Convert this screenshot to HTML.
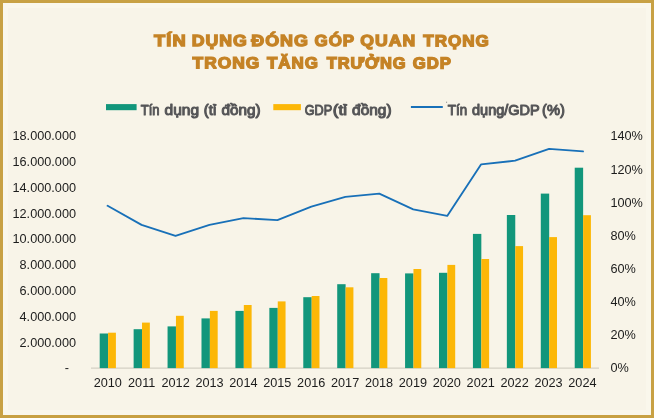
<!DOCTYPE html>
<html><head><meta charset="utf-8"><title>chart</title>
<style>
html,body{margin:0;padding:0;background:#F8F4E8;}
body{width:654px;height:418px;overflow:hidden;font-family:"Liberation Sans",sans-serif;}
svg{display:block;will-change:transform;}
text{font-family:"Liberation Sans",sans-serif;}
.ax{font-size:12.7px;fill:#1c1c1c;}
.ttl{font-size:16.0px;letter-spacing:0.9px;font-weight:bold;fill:#C58326;stroke:#C58326;stroke-width:1.3px;stroke-linejoin:miter;stroke-miterlimit:2;}
.lg{font-size:14.2px;font-weight:normal;fill:#555557;stroke:#555557;stroke-width:1.0px;stroke-linejoin:round;}
</style></head><body>
<svg width="654" height="418" viewBox="0 0 654 418">
<rect x="0" y="0" width="654" height="418" fill="#C8A144"/>
<rect x="3" y="3" width="648" height="412" fill="#FAF7EC"/>
<rect x="8" y="8" width="638" height="402" fill="#F8F4E8"/>

<text class="ttl" transform="translate(0,45.9) rotate(0.03)" x="154.14" y="0" textLength="32.51" lengthAdjust="spacingAndGlyphs">TÍN</text>
<text class="ttl" transform="translate(0,45.9) rotate(0.03)" x="191.70" y="0" textLength="56.07" lengthAdjust="spacingAndGlyphs">DỤNG</text>
<text class="ttl" transform="translate(0,45.9) rotate(0.03)" x="251.21" y="0" textLength="57.77" lengthAdjust="spacingAndGlyphs">ĐÓNG</text>
<text class="ttl" transform="translate(0,45.9) rotate(0.03)" x="314.63" y="0" textLength="40.46" lengthAdjust="spacingAndGlyphs">GÓP</text>
<text class="ttl" transform="translate(0,45.9) rotate(0.03)" x="360.38" y="0" textLength="55.82" lengthAdjust="spacingAndGlyphs">QUAN</text>
<text class="ttl" transform="translate(0,45.9) rotate(0.03)" x="423.30" y="0" textLength="66.43" lengthAdjust="spacingAndGlyphs">TRỌNG</text>
<text class="ttl" transform="translate(0,68.2) rotate(0.03)" x="192.57" y="0" textLength="67.66" lengthAdjust="spacingAndGlyphs">TRONG</text>
<text class="ttl" transform="translate(0,68.2) rotate(0.03)" x="267.01" y="0" textLength="51.81" lengthAdjust="spacingAndGlyphs">TĂNG</text>
<text class="ttl" transform="translate(0,68.2) rotate(0.03)" x="326.71" y="0" textLength="79.91" lengthAdjust="spacingAndGlyphs">TRƯỞNG</text>
<text class="ttl" transform="translate(0,68.2) rotate(0.03)" x="412.73" y="0" textLength="39.10" lengthAdjust="spacingAndGlyphs">GDP</text>
<rect x="106" y="104.1" width="30.6" height="6.1" fill="#12967B"/>
<rect x="273.3" y="104.1" width="27.6" height="6.1" fill="#FCB707"/>
<line x1="410.9" y1="107.0" x2="442.8" y2="107.0" stroke="#1870B8" stroke-width="1.9"/>
<rect x="446.0" y="101.7" width="1.1" height="1.1" fill="#555557" opacity="0.6"/>
<text class="lg" x="140.83" y="115.0" textLength="18.75" lengthAdjust="spacingAndGlyphs">Tín</text>
<text class="lg" x="164.62" y="115.0" textLength="34.47" lengthAdjust="spacingAndGlyphs">dụng</text>
<text class="lg" x="203.86" y="115.0" textLength="12.52" lengthAdjust="spacingAndGlyphs">(tỉ</text>
<text class="lg" x="221.44" y="115.0" textLength="39.13" lengthAdjust="spacingAndGlyphs">đồng)</text>
<text class="lg" x="304.69" y="115.0" textLength="27.47" lengthAdjust="spacingAndGlyphs">GDP</text>
<text class="lg" x="332.84" y="115.0" textLength="14.33" lengthAdjust="spacingAndGlyphs">(tỉ</text>
<text class="lg" x="352.12" y="115.0" textLength="39.49" lengthAdjust="spacingAndGlyphs">đồng)</text>
<text class="lg" x="447.84" y="115.0" textLength="19.24" lengthAdjust="spacingAndGlyphs">Tín</text>
<text class="lg" x="472.04" y="115.0" textLength="67.73" lengthAdjust="spacingAndGlyphs">dụng/GDP</text>
<text class="lg" x="542.05" y="115.0" textLength="22.81" lengthAdjust="spacingAndGlyphs">(%)</text>
<line x1="91" y1="368.1" x2="599" y2="368.1" stroke="#D4D0C4" stroke-width="1.2"/>
<rect x="99.70" y="333.5" width="8.4" height="34.60" fill="#12967B"/>
<rect x="108.10" y="332.7" width="7.80" height="35.40" fill="#FCB707"/>
<rect x="133.63" y="329.2" width="8.4" height="38.90" fill="#12967B"/>
<rect x="142.03" y="322.6" width="7.80" height="45.50" fill="#FCB707"/>
<rect x="167.56" y="326.4" width="8.4" height="41.70" fill="#12967B"/>
<rect x="175.96" y="315.8" width="7.80" height="52.30" fill="#FCB707"/>
<rect x="201.49" y="318.4" width="8.4" height="49.70" fill="#12967B"/>
<rect x="209.89" y="310.9" width="7.80" height="57.20" fill="#FCB707"/>
<rect x="235.42" y="310.9" width="8.4" height="57.20" fill="#12967B"/>
<rect x="243.82" y="305.0" width="7.80" height="63.10" fill="#FCB707"/>
<rect x="269.35" y="307.9" width="8.4" height="60.20" fill="#12967B"/>
<rect x="277.75" y="301.4" width="7.80" height="66.70" fill="#FCB707"/>
<rect x="303.28" y="297.2" width="8.4" height="70.90" fill="#12967B"/>
<rect x="311.68" y="296.0" width="7.80" height="72.10" fill="#FCB707"/>
<rect x="337.21" y="284.2" width="8.4" height="83.90" fill="#12967B"/>
<rect x="345.61" y="287.3" width="7.80" height="80.80" fill="#FCB707"/>
<rect x="371.14" y="273.2" width="8.4" height="94.90" fill="#12967B"/>
<rect x="379.54" y="278.0" width="7.80" height="90.10" fill="#FCB707"/>
<rect x="405.07" y="273.4" width="8.4" height="94.70" fill="#12967B"/>
<rect x="413.47" y="269.0" width="7.80" height="99.10" fill="#FCB707"/>
<rect x="439.00" y="272.8" width="8.4" height="95.30" fill="#12967B"/>
<rect x="447.40" y="264.9" width="7.80" height="103.20" fill="#FCB707"/>
<rect x="472.93" y="233.9" width="8.4" height="134.20" fill="#12967B"/>
<rect x="481.33" y="259.0" width="7.80" height="109.10" fill="#FCB707"/>
<rect x="506.86" y="215.0" width="8.4" height="153.10" fill="#12967B"/>
<rect x="515.26" y="246.1" width="7.80" height="122.00" fill="#FCB707"/>
<rect x="540.79" y="193.6" width="8.4" height="174.50" fill="#12967B"/>
<rect x="549.19" y="237.1" width="7.80" height="131.00" fill="#FCB707"/>
<rect x="574.72" y="167.7" width="8.4" height="200.40" fill="#12967B"/>
<rect x="583.12" y="215.2" width="7.80" height="152.90" fill="#FCB707"/>
<polyline points="107.60,205.8 141.56,224.9 175.52,235.8 209.48,224.8 243.44,218.1 277.40,220.1 311.36,206.7 345.32,196.9 379.28,193.7 413.24,209.4 447.20,215.9 481.16,164.3 515.12,160.7 549.08,148.8 583.04,151.4" fill="none" stroke="#1870B8" stroke-width="1.85" stroke-linejoin="round" stroke-linecap="round"/>
<text class="ax" x="69" y="371.50" text-anchor="end">-</text>
<text class="ax" x="76" y="346.57" text-anchor="end">2.000.000</text>
<text class="ax" x="76" y="320.79" text-anchor="end">4.000.000</text>
<text class="ax" x="76" y="295.01" text-anchor="end">6.000.000</text>
<text class="ax" x="76" y="269.23" text-anchor="end">8.000.000</text>
<text class="ax" x="76" y="243.45" text-anchor="end">10.000.000</text>
<text class="ax" x="76" y="217.67" text-anchor="end">12.000.000</text>
<text class="ax" x="76" y="191.89" text-anchor="end">14.000.000</text>
<text class="ax" x="76" y="166.11" text-anchor="end">16.000.000</text>
<text class="ax" x="76" y="140.33" text-anchor="end">18.000.000</text>
<text class="ax" x="610.4" y="372.35">0%</text>
<text class="ax" x="610.4" y="339.21">20%</text>
<text class="ax" x="610.4" y="306.07">40%</text>
<text class="ax" x="610.4" y="272.93">60%</text>
<text class="ax" x="610.4" y="239.79">80%</text>
<text class="ax" x="610.4" y="206.65">100%</text>
<text class="ax" x="610.4" y="173.51">120%</text>
<text class="ax" x="610.4" y="140.37">140%</text>
<text class="ax" x="107.80" y="387.3" text-anchor="middle">2010</text>
<text class="ax" x="141.70" y="387.3" text-anchor="middle">2011</text>
<text class="ax" x="175.60" y="387.3" text-anchor="middle">2012</text>
<text class="ax" x="209.50" y="387.3" text-anchor="middle">2013</text>
<text class="ax" x="243.40" y="387.3" text-anchor="middle">2014</text>
<text class="ax" x="277.30" y="387.3" text-anchor="middle">2015</text>
<text class="ax" x="311.20" y="387.3" text-anchor="middle">2016</text>
<text class="ax" x="345.10" y="387.3" text-anchor="middle">2017</text>
<text class="ax" x="379.00" y="387.3" text-anchor="middle">2018</text>
<text class="ax" x="412.90" y="387.3" text-anchor="middle">2019</text>
<text class="ax" x="446.80" y="387.3" text-anchor="middle">2020</text>
<text class="ax" x="480.70" y="387.3" text-anchor="middle">2021</text>
<text class="ax" x="514.60" y="387.3" text-anchor="middle">2022</text>
<text class="ax" x="548.50" y="387.3" text-anchor="middle">2023</text>
<text class="ax" x="582.40" y="387.3" text-anchor="middle">2024</text>
</svg></body></html>
